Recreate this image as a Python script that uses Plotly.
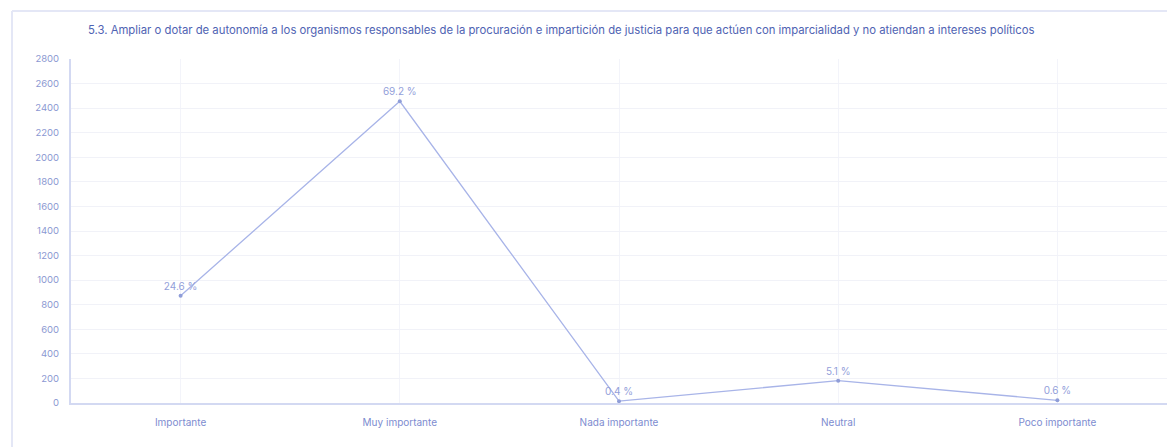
import plotly.graph_objects as go

categories = ["Importante", "Muy importante", "Nada importante", "Neutral", "Poco importante"]
values = [873, 2456, 15, 182, 22]
title_text = ("5.3. Ampliar o dotar de autonomía a los organismos responsables de la procuración e "
              "impartición de justicia para que actúen con imparcialidad y no atiendan a intereses políticos")
y_ticks = list(range(0, 2801, 200))

total = sum(values)
labels = [f"{v / total * 100:.1f} %" for v in values]

W, H = 1167, 447
ml, mr, mt, mb = 71, 0, 59, 44
pw, ph = W - ml - mr, H - mt - mb

def px_x(x):
    return (x - ml) / pw

def px_y(y):
    return (H - mb - y) / ph

line_color = "#a8b4e8"
text_color = "#7f8fd2"
font_family = "Inter, 'Open Sans', sans-serif"
border_color = "#e4e7f6"

fig = go.Figure()
fig.add_trace(go.Scatter(
    x=categories, y=values, mode="lines+markers+text",
    text=labels, textposition="top center",
    textfont=dict(color="#93a0da", size=10, family=font_family),
    line=dict(color=line_color, width=1.3),
    marker=dict(color="#8f9dd8", size=4),
    cliponaxis=False, showlegend=False, hoverinfo="skip",
))

fig.update_layout(
    width=W, height=H,
    margin=dict(l=ml, r=mr, t=mt, b=mb),
    paper_bgcolor="white", plot_bgcolor="white",
    font=dict(family=font_family, size=10, color=text_color),
    xaxis=dict(
        type="category", range=[-0.5, 4.5],
        showgrid=True, gridcolor="#f3f4fa", gridwidth=1,
        showline=True, linecolor="#d3d9f2", linewidth=2,
        ticks="", ticklabelstandoff=9, tickfont=dict(size=10, color="#7d8cd0"),
        zeroline=False, fixedrange=True,
    ),
    yaxis=dict(
        range=[0, 2800], tickvals=y_ticks,
        showgrid=True, gridcolor="#f1f2f8", gridwidth=1,
        showline=True, linecolor="#d3d9f2", linewidth=2,
        ticks="", ticklabelstandoff=8,
        tickfont=dict(size=9.5, color="#8b98d2"),
        zeroline=False, fixedrange=True,
    ),
    shapes=[
        dict(type="line", xref="paper", yref="paper",
             x0=px_x(12), x1=px_x(W + 50), y0=px_y(11), y1=px_y(11),
             line=dict(color=border_color, width=2), layer="below"),
        dict(type="line", xref="paper", yref="paper",
             x0=px_x(12), x1=px_x(12), y0=px_y(11), y1=px_y(H + 50),
             line=dict(color=border_color, width=2), layer="below"),
    ],
    annotations=[dict(
        text=title_text, xref="paper", yref="paper",
        x=px_x(86), y=px_y(30), xanchor="left", yanchor="middle",
        showarrow=False, font=dict(size=11.3, color="#4f63b3", family=font_family),
    )],
)

fig.write_html(
    "out.html",
    config={"displayModeBar": False, "staticPlot": True},
    post_script="document.body.style.margin='0';document.body.style.overflow='hidden';",
)
